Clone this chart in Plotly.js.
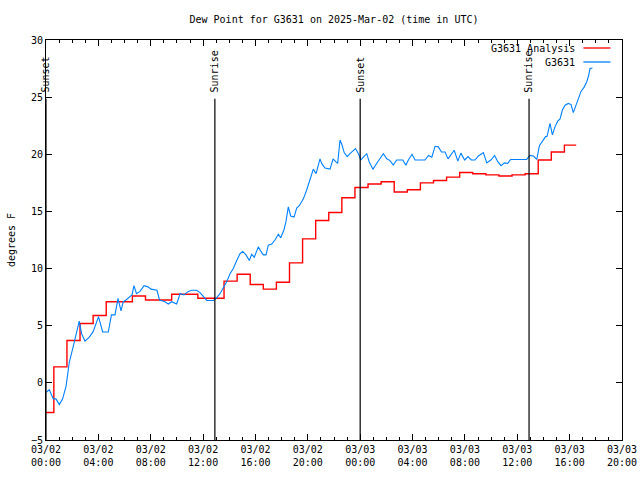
<!DOCTYPE html>
<html>
<head>
<meta charset="utf-8">
<script src="https://cdn.plot.ly/plotly-3.0.1.min.js"></script>
<style>html,body{margin:0;padding:0;background:#fff;}#chart{width:640px;height:480px;}</style>
</head>
<body>
<div id="chart"></div>
<script>
// Hours after 2025-03-02 00:00 UTC
const obsHours = [
  0.05,0.25,0.56,0.76,1.02,1.27,1.53,1.78,2.04,2.29,
  2.54,2.72,2.98,3.31,3.61,4.01,4.33,4.76,5.00,5.27,
  5.50,5.73,5.90,6.11,6.36,6.57,6.72,6.91,7.18,7.49,
  7.79,8.02,8.48,8.67,9.09,9.34,9.60,9.98,10.24,10.54,
  10.87,11.13,11.51,11.76,12.07,12.28,12.78,12.99,13.29,13.54,
  13.80,14.08,14.31,14.57,14.82,15.03,15.28,15.53,15.71,15.91,
  16.22,16.42,16.60,16.81,16.98,17.24,17.49,17.75,17.93,18.18,
  18.33,18.51,18.69,18.95,19.15,19.35,19.66,19.92,20.17,20.42,
  20.63,20.80,20.93,21.06,21.31,21.70,21.93,22.13,22.28,22.46,
  22.59,22.78,23.01,23.26,23.64,23.87,24.04,24.24,24.50,24.70,
  24.98,25.32,25.77,26.03,26.28,26.53,26.79,27.25,27.49,27.68,
  27.96,28.19,28.95,29.22,29.47,29.72,29.97,30.21,30.48,30.71,
  30.96,31.18,31.46,31.69,31.98,32.24,32.49,32.77,33.03,33.41,
  33.67,33.98,34.27,34.51,34.76,35.03,35.27,35.49,36.72,36.97,
  37.23,37.49,37.69,37.95,38.16,38.27,38.39,38.50,38.68,38.88,
  39.09,39.27,39.44,39.65,39.90,40.11,40.28,40.47,40.67,40.87,
  41.12,41.31,41.44,41.56,41.74
];
const obsValues = [
  -0.8,-0.6,-1.4,-1.4,-1.9,-1.4,-0.3,1.8,3.0,4.2,
  5.4,4.3,3.65,4.0,4.5,5.8,4.45,4.45,5.95,5.95,
  7.4,6.3,7.1,7.25,7.5,7.7,8.5,7.8,8.0,8.5,
  8.4,8.2,8.1,7.25,7.1,6.9,7.1,6.9,7.8,7.7,
  8.0,8.1,8.1,7.9,7.5,7.2,7.2,7.4,7.8,8.3,
  8.85,9.6,10.0,10.7,11.3,11.5,11.2,10.7,11.25,11.0,
  11.9,11.5,11.2,11.2,12.05,12.15,12.5,13.0,12.7,13.4,
  14.1,15.4,14.6,14.5,15.3,15.5,16.1,16.9,17.8,18.7,
  18.3,19.2,19.6,19.2,18.8,18.7,19.6,19.35,19.2,21.25,
  20.9,20.15,19.8,20.1,20.5,20.05,19.5,19.75,20.05,19.3,
  18.7,19.3,20.05,19.6,19.45,19.05,19.5,19.5,19.05,19.5,
  20.0,19.5,19.5,19.9,19.75,20.7,20.65,20.2,20.2,19.6,
  19.95,20.35,19.4,20.1,19.5,19.8,19.5,19.5,19.85,20.15,
  19.25,19.5,19.9,19.35,19.0,19.25,19.2,19.55,19.55,19.9,
  19.85,19.55,20.75,21.25,21.55,21.55,22.35,22.7,21.7,22.4,
  22.9,23.1,23.85,24.3,24.45,24.35,23.65,24.3,25.0,25.5,
  25.9,26.35,26.85,27.5,27.55
];
const anaHours = [
  -0.4,0.6,1.6,2.6,3.6,4.6,5.6,6.6,7.6,8.6,
  9.6,10.6,11.6,12.6,13.6,14.6,15.6,16.6,17.6,18.6,
  19.6,20.6,21.6,22.6,23.6,24.6,25.6,26.6,27.6,28.6,
  29.6,30.6,31.6,32.6,33.6,34.6,35.6,36.6,37.6,38.6,
  39.6,40.5
];
const anaValues = [
  -2.6,1.4,3.7,5.2,5.9,7.1,7.1,7.6,7.25,7.25,
  7.75,7.75,7.4,7.4,8.9,9.5,8.6,8.2,8.8,10.5,
  12.6,14.2,14.9,16.2,17.1,17.4,17.6,16.7,16.9,17.5,
  17.7,18.0,18.4,18.3,18.2,18.1,18.2,18.3,19.5,20.2,
  20.8,20.8
];
const eventLabels = ['Sunset','Sunrise','Sunset','Sunrise'];
const eventHours = [0.0, 12.9, 24.0, 36.9];
const seriesNames = ['G3631 Analysis','G3631'];
const seriesColors = ['#ff0000','#0080ff'];

const base = Date.UTC(2025, 2, 2);
const HOUR = 3600000;
const toMs = h => base + h * HOUR;
const FONT = 'DejaVu Sans Mono, Liberation Mono, monospace';

const traces = [
  {x: anaHours.map(toMs), y: anaValues, type: 'scatter', mode: 'lines',
   line: {color: seriesColors[0], width: 1.4, shape: 'hv'}, name: seriesNames[0]},
  {x: obsHours.map(toMs), y: obsValues, type: 'scatter', mode: 'lines',
   line: {color: seriesColors[1], width: 1.1}, name: seriesNames[1]}
];

const shapes = [];
const annotations = [];
eventHours.forEach((h, i) => {
  shapes.push({type: 'line', xref: 'x', yref: 'paper', x0: toMs(h), x1: toMs(h), y0: 0, y1: 0.853,
    line: {color: '#000', width: 1.2}});
  annotations.push({xref: 'x', yref: 'paper', x: toMs(h), y: 0.866, text: eventLabels[i],
    textangle: -90, showarrow: false, xanchor: 'center', yanchor: 'bottom',
    font: {family: FONT, size: 10, color: '#000'}, borderpad: 0});
});
// gnuplot-style key: text right-aligned, sample line to its right
seriesNames.forEach((n, i) => {
  const yp = i === 0 ? 0.98 : 0.945;
  annotations.push({xref: 'paper', yref: 'paper', x: 0.921, y: yp, text: n, showarrow: false,
    xanchor: 'right', yanchor: 'middle', font: {family: FONT, size: 10, color: '#000'}, borderpad: 0});
  shapes.push({type: 'line', xref: 'paper', yref: 'paper', x0: 0.933, x1: 0.98, y0: yp, y1: yp,
    line: {color: seriesColors[i], width: 1.3}});
});

const layout = {
  width: 640, height: 480,
  margin: {l: 46, r: 18, t: 40, b: 40},
  paper_bgcolor: '#fff', plot_bgcolor: '#fff',
  font: {family: FONT, size: 10, color: '#000'},
  showlegend: false,
  hovermode: false,
  title: {text: 'Dew Point for G3631 on 2025-Mar-02 (time in UTC)', x: 0.5, xref: 'paper',
    y: 1 - 19 / 480, yref: 'container', yanchor: 'middle', font: {family: FONT, size: 10, color: '#000'}},
  xaxis: {
    type: 'date', range: [toMs(0), toMs(44)], tick0: toMs(0), dtick: 4 * HOUR,
    tickformat: '%m/%d<br>%H:%M', ticks: 'inside', ticklen: 6, tickcolor: '#000',
    showline: true, linecolor: '#000', linewidth: 1, mirror: 'ticks',
    showgrid: false, zeroline: false,
    minor: {ticks: 'inside', ticklen: 3, dtick: HOUR, tick0: toMs(0), tickcolor: '#000', showgrid: false},
    tickfont: {family: FONT, size: 10, color: '#000'}
  },
  yaxis: {
    range: [-5, 30], tick0: -5, dtick: 5, ticks: 'inside', ticklen: 6, tickcolor: '#000',
    showline: true, linecolor: '#000', linewidth: 1, mirror: 'ticks',
    showgrid: false, zeroline: false,
    tickfont: {family: FONT, size: 10, color: '#000'},
    title: {text: 'degrees F', font: {family: FONT, size: 10, color: '#000'}, standoff: 13}
  },
  shapes: shapes,
  annotations: annotations
};

Plotly.newPlot('chart', traces, layout, {displayModeBar: false, staticPlot: true});
</script>
</body>
</html>
